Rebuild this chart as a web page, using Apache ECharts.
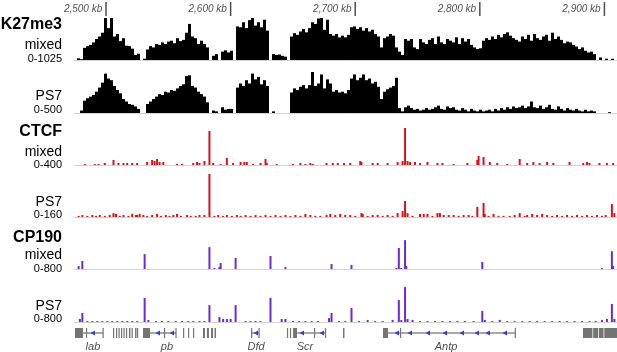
<!DOCTYPE html>
<html>
<head>
<meta charset="utf-8">
<script src="https://cdn.jsdelivr.net/npm/echarts@6/dist/echarts.min.js"></script>
<style>
  html, body { margin: 0; padding: 0; background: #fff; }
  #chart { width: 617px; height: 352px; }
</style>
</head>
<body>
<div id="chart"></div>
<script>
// genomic window shown (kb)
const KB_MIN = 2474.3;
const KB_MAX = 2910.1;

const rulerTicks = [2500, 2600, 2700, 2800, 2900];
const rulerLabels = ["2,500 kb", "2,600 kb", "2,700 kb", "2,800 kb", "2,900 kb"];

const trackNames = ["K27me3", "CTCF", "CP190"];
const sampleNames = ["mixed", "PS7"];
const scaleLabels = ["0-1025", "0-500", "0-400", "0-160", "0-800", "0-800"];
const scaleMax = [1025, 500, 400, 160, 800, 800];

// H3K27me3 signal, equal bins across the window
const k27Mixed = [
  0, 40, 20, 290, 330, 360, 420, 500, 560, 650,
  1000, 760, 1000, 560, 620, 450, 520, 340, 330, 270,
  120, 150, 0, 30, 250, 330, 300, 380, 360, 420,
  380, 440, 460, 400, 520, 450, 480, 650, 860, 560,
  520, 380, 460, 380, 300, 0, 100, 140, 0, 200,
  230, 180, 220, 0, 800, 780, 900, 760, 950, 1000,
  820, 900, 780, 960, 700, 0, 140, 120, 130, 100,
  80, 0, 560, 640, 600, 680, 740, 660, 760, 900,
  860, 990, 1000, 720, 960, 620, 580, 620, 540, 580,
  540, 600, 780, 800, 740, 780, 700, 760, 680, 720,
  620, 560, 300, 520, 560, 620, 580, 300, 200, 120,
  500, 460, 500, 300, 260, 500, 420, 380, 480, 520,
  380, 560, 420, 380, 500, 460, 420, 540, 380, 520,
  440, 500, 360, 300, 260, 280, 460, 520, 480, 560,
  500, 600, 540, 620, 660, 580, 520, 480, 440, 560,
  500, 600, 460, 620, 520, 480, 560, 600, 460, 650,
  500, 560, 480, 400, 440, 420, 360, 320, 260, 300,
  220, 180, 200, 140, 0, 60, 0, 30, 0, 30,
  0
];
const k27PS7 = [
  0, 0, 30, 150, 180, 200, 220, 260, 310, 370,
  480, 420, 400, 330, 280, 240, 170, 140, 110, 100,
  80, 50, 0, 0, 110, 140, 170, 200, 230, 220,
  260, 250, 280, 270, 300, 330, 350, 450, 460, 330,
  310, 260, 230, 200, 130, 0, 30, 20, 0, 70,
  40, 50, 50, 0, 310, 360, 330, 400, 360, 480,
  410, 440, 350, 400, 330, 0, 20, 0, 0, 0,
  0, 0, 250, 300, 280, 320, 340, 300, 340, 500,
  330, 360, 470, 300, 410, 360, 260, 280, 250, 260,
  240, 280, 420, 470, 400, 430, 470, 400, 420, 360,
  380, 320, 170, 260, 290, 310, 330, 430, 60, 20,
  70, 90, 60, 40, 50, 30, 40, 60, 40, 50,
  70, 90, 50, 40, 80, 60, 70, 40, 30, 60,
  40, 20, 50, 30, 20, 40, 20, 30, 40, 20,
  50, 30, 60, 40, 70, 50, 80, 60, 70, 90,
  60, 80, 140, 70, 60, 90, 50, 70, 100, 50,
  40, 80, 50, 30, 60, 40, 30, 50, 30, 20,
  40, 20, 30, 20, 0, 0, 0, 0, 10, 0,
  0
];

// CTCF peaks [kb, signal]
const ctcfMixed = [
  [2483,10],[2491,10],[2494,10],[2499,20],[2506,50],[2510,20],[2514,20],[2517,20],[2521,20],[2525,20],
  [2533,30],[2537,50],[2539,40],[2541,60],[2543,30],[2546,30],[2557,10],[2561,10],[2570,20],[2573,30],
  [2575,20],[2579,40],[2583,340],[2586,20],[2592,10],[2597,70],[2602,20],[2608,30],[2611,30],[2613,30],
  [2618,10],[2624,20],[2628,60],[2629,20],[2637,10],[2650,10],[2656,20],[2660,10],[2664,20],[2666,10],
  [2677,20],[2682,20],[2686,20],[2691,20],[2696,20],[2704,40],[2705,30],[2714,20],[2718,20],[2726,20],
  [2734,30],[2738,40],[2740,370],[2742,40],[2744,30],[2748,30],[2752,20],[2758,30],[2766,20],[2770,20],
  [2779,10],[2790,20],[2798,50],[2799,90],[2803,80],[2808,30],[2814,20],[2822,10],[2832,60],[2838,20],
  [2843,30],[2848,20],[2854,30],[2859,20],[2872,30],[2883,20],[2886,30],[2888,20],[2896,20],[2902,20],
  [2907,20]
];
const ctcfPS7 = [
  [2478,4],[2481,7],[2485,4],[2489,7],[2492,4],[2495,7],[2499,4],[2503,7],[2506,14],[2508,11],
  [2511,4],[2514,7],[2518,4],[2521,11],[2524,7],[2525,7],[2527,11],[2530,7],[2533,4],[2537,7],
  [2541,11],[2544,4],[2548,7],[2551,4],[2554,7],[2557,11],[2560,4],[2565,7],[2568,4],[2572,4],
  [2575,7],[2579,7],[2583,153],[2587,4],[2590,7],[2594,4],[2597,7],[2601,4],[2605,7],[2608,4],
  [2612,7],[2616,4],[2620,7],[2624,4],[2628,7],[2632,4],[2636,7],[2640,4],[2644,7],[2648,4],
  [2652,7],[2656,4],[2660,11],[2664,7],[2668,4],[2672,4],[2677,7],[2680,11],[2684,7],[2688,11],
  [2692,7],[2696,7],[2700,4],[2705,14],[2706,11],[2710,4],[2714,7],[2718,7],[2722,4],[2726,7],
  [2730,4],[2734,14],[2738,21],[2740,57],[2742,14],[2746,4],[2752,11],[2755,11],[2758,11],[2762,4],
  [2766,14],[2768,14],[2771,7],[2775,7],[2779,7],[2783,4],[2787,7],[2791,7],[2794,4],[2798,36],
  [2803,50],[2804,11],[2807,4],[2811,11],[2815,4],[2819,4],[2824,4],[2828,7],[2832,14],[2836,4],
  [2838,7],[2842,11],[2846,7],[2850,11],[2854,7],[2858,4],[2862,7],[2866,4],[2870,7],[2874,4],
  [2878,7],[2882,4],[2886,7],[2890,4],[2894,7],[2898,4],[2901,7],[2906,46],[2908,14]
];

// CP190 peaks [kb, signal]
const cp190Mixed = [
  [2478,70],[2481,195],[2531,360],[2583,530],[2587,25],[2591,50],[2592,145],[2604,270],[2632,315],
  [2644,50],[2681,120],[2697,100],[2733,25],[2735,510],[2737,25],[2740,700],[2741,70],[2802,170],
  [2898,25],[2906,430],[2907,70]
];
const cp190PS7 = [
  [2479,65],[2481,195],[2485,20],[2489,20],[2493,20],[2497,20],[2501,20],[2505,20],[2509,20],[2513,20],
  [2517,20],[2521,20],[2525,20],[2531,520],[2534,45],[2540,20],[2545,20],[2550,20],[2556,20],[2561,20],
  [2566,20],[2570,20],[2575,20],[2579,20],[2583,365],[2591,110],[2594,65],[2597,65],[2600,65],[2604,365],
  [2612,20],[2616,20],[2620,20],[2624,20],[2632,520],[2641,65],[2644,65],[2650,20],[2655,20],[2660,20],
  [2665,20],[2670,20],[2679,85],[2681,195],[2687,20],[2692,20],[2697,300],[2703,20],[2710,45],[2716,20],
  [2722,20],[2730,45],[2735,475],[2737,45],[2740,760],[2742,65],[2746,45],[2752,20],[2758,20],[2764,20],
  [2770,20],[2776,20],[2782,20],[2788,20],[2795,20],[2802,240],[2804,45],[2810,20],[2816,45],[2822,20],
  [2828,20],[2834,20],[2840,20],[2846,20],[2852,20],[2858,20],[2864,20],[2870,20],[2876,20],[2882,20],
  [2888,20],[2893,20],[2898,45],[2902,65],[2906,390],[2908,65]
];

// gene models (kb)
const geneLines = [
  [2481.5, 2497.6], [2535.3, 2556.2], [2616.4, 2622.8], [2653.3, 2675.7], [2722.3, 2828.2]
];
const geneExons = [
  [2475.1, 2481.5], [2483.9, 2484.7], [2497.2, 2498.0],
  [2505.6, 2506.4], [2508.0, 2508.8], [2510.0, 2510.8], [2512.0, 2512.8], [2514.0, 2514.8], [2516.0, 2516.8],
  [2518.4, 2519.6], [2520.5, 2521.3], [2523.3, 2524.5], [2524.9, 2525.7],
  [2529.7, 2535.3], [2546.5, 2547.3], [2555.7, 2556.5],
  [2561.8, 2562.6], [2565.8, 2566.6], [2569.8, 2570.6],
  [2577.8, 2579.4], [2581.0, 2582.6], [2584.3, 2585.9], [2587.1, 2588.3],
  [2616.4, 2617.2], [2622.4, 2623.2],
  [2645.2, 2646.0], [2647.6, 2648.4], [2650.1, 2653.3], [2666.9, 2667.7], [2675.7, 2676.5],
  [2690.2, 2691.4],
  [2722.3, 2726.3], [2735.9, 2736.7], [2828.0, 2828.8],
  [2882.8, 2890.4], [2891.0, 2895.0], [2895.6, 2899.3], [2899.9, 2910.1]
];
const geneArrows = [
  2489.5, 2541.7, 2553.0, 2620.4, 2657.3, 2673.3,
  2733.5, 2744.0, 2758.4, 2772.1, 2785.7, 2797.7, 2806.5, 2820.2
];
const geneNames = ["lab", "pb", "Dfd", "Scr", "Antp"];
const geneLabelKb = [2489.5, 2548.9, 2620.4, 2659.7, 2772.9];

const FONT = '"Liberation Sans", Arial, sans-serif';
const RED = "#d3141c";
const PURPLE = "#6a2bd0";
const BASE = "#d4d4d4";

const grids = [];
const xAxes = [];
const yAxes = [];
const series = [];

function addGrid(top, height) {
  grids.push({ left: 74, right: 0, top, height });
  return grids.length - 1;
}

// K27me3 tracks on binned category axes
[[k27Mixed, 0, 17, 43], [k27PS7, 1, 72, 41]].forEach(([vals, s, top, h]) => {
  const gi = addGrid(top, h);
  xAxes.push({
    gridIndex: gi, type: "category", data: vals.map((_, i) => i),
    axisLine: { lineStyle: { color: BASE, width: 1 } },
    axisTick: { show: false }, axisLabel: { show: false }
  });
  yAxes.push({ gridIndex: gi, type: "value", min: 0, max: scaleMax[s], show: false });
  series.push({
    type: "bar", xAxisIndex: gi, yAxisIndex: gi, data: vals,
    barCategoryGap: "0%", itemStyle: { color: "#000" }, silent: true
  });
});

// peak tracks on a kb axis
[
  [ctcfMixed, 2, 125, 40, RED],
  [ctcfPS7, 3, 172, 45, RED],
  [cp190Mixed, 4, 236, 33, PURPLE],
  [cp190PS7, 5, 285, 37, PURPLE]
].forEach(([vals, s, top, h, color]) => {
  const gi = addGrid(top, h);
  xAxes.push({
    gridIndex: gi, type: "value", min: KB_MIN, max: KB_MAX,
    axisLine: { lineStyle: { color: BASE, width: 1 } },
    axisTick: { show: false }, axisLabel: { show: false }, splitLine: { show: false }
  });
  yAxes.push({ gridIndex: gi, type: "value", min: 0, max: scaleMax[s], show: false });
  series.push({
    type: "bar", xAxisIndex: gi, yAxisIndex: gi, data: vals,
    barWidth: 2, itemStyle: { color }, silent: true
  });
});

// ruler
const rg = addGrid(0, 18);
xAxes.push({ gridIndex: rg, type: "value", min: KB_MIN, max: KB_MAX, show: false });
yAxes.push({ gridIndex: rg, type: "value", min: 0, max: 1, show: false });
series.push({
  type: "scatter", xAxisIndex: rg, yAxisIndex: rg,
  data: rulerTicks.map(k => [k, 0.5]),
  symbol: "rect", symbolSize: [1.5, 14], itemStyle: { color: "#222" }, silent: true,
  label: {
    show: true, position: "left", distance: 3,
    formatter: p => rulerLabels[p.dataIndex],
    fontFamily: FONT, fontSize: 10, fontStyle: "italic", color: "#222"
  }
});

// gene track
const GENE_Y = 11;
const gg = addGrid(322, 30);
xAxes.push({ gridIndex: gg, type: "value", min: KB_MIN, max: KB_MAX, show: false });
yAxes.push({ gridIndex: gg, type: "value", min: 0, max: 30, inverse: true, show: false });
series.push({
  type: "custom", xAxisIndex: gg, yAxisIndex: gg, silent: true,
  data: geneLines,
  renderItem: (params, api) => {
    const a = api.coord([api.value(0), GENE_Y]);
    const b = api.coord([api.value(1), GENE_Y]);
    return { type: "line", shape: { x1: a[0], y1: a[1], x2: b[0], y2: b[1] },
      style: { stroke: "#8c8c8c", lineWidth: 1.5 } };
  }
});
series.push({
  type: "custom", xAxisIndex: gg, yAxisIndex: gg, silent: true,
  data: geneExons,
  renderItem: (params, api) => {
    const a = api.coord([api.value(0), GENE_Y]);
    const b = api.coord([api.value(1), GENE_Y]);
    return { type: "rect", shape: { x: a[0], y: a[1] - 5, width: Math.max(1.2, b[0] - a[0]), height: 10 },
      style: { fill: "#747474" } };
  }
});
series.push({
  type: "custom", xAxisIndex: gg, yAxisIndex: gg, silent: true,
  data: geneArrows.map(k => [k]),
  renderItem: (params, api) => {
    const p = api.coord([api.value(0), GENE_Y]);
    return { type: "polygon",
      shape: { points: [[p[0] - 2.5, p[1]], [p[0] + 2, p[1] - 2.5], [p[0] + 2, p[1] + 2.5]] },
      style: { fill: "#3a3ad4" } };
  }
});
series.push({
  type: "scatter", xAxisIndex: gg, yAxisIndex: gg, silent: true,
  data: geneLabelKb.map(k => [k, 25]),
  symbolSize: 1, itemStyle: { color: "rgba(0,0,0,0)" },
  label: {
    show: true, position: "inside",
    formatter: p => geneNames[p.dataIndex],
    fontFamily: FONT, fontSize: 11, fontStyle: "italic", color: "#222"
  }
});

// track labels on the left
function txt(text, y, weight, size) {
  return {
    type: "text", x: 62, y, silent: true,
    style: {
      text, fill: "#000", align: "right", verticalAlign: "middle",
      font: weight + " " + size + "px " + FONT
    }
  };
}
const graphic = [
  txt(trackNames[0], 25, "bold", 16),
  txt(sampleNames[0], 45, "normal", 14),
  txt(scaleLabels[0], 58.5, "normal", 11),
  txt(sampleNames[1], 96, "normal", 14),
  txt(scaleLabels[1], 109.5, "normal", 11),
  txt(trackNames[1], 132, "bold", 16),
  txt(sampleNames[0], 152, "normal", 14),
  txt(scaleLabels[2], 164.5, "normal", 11),
  txt(sampleNames[1], 202.5, "normal", 14),
  txt(scaleLabels[3], 215, "normal", 11),
  txt(trackNames[2], 237.5, "bold", 16),
  txt(sampleNames[0], 255, "normal", 14),
  txt(scaleLabels[4], 268.5, "normal", 11),
  txt(sampleNames[1], 306, "normal", 14),
  txt(scaleLabels[5], 319, "normal", 11)
];

const chart = echarts.init(document.getElementById("chart"), null, { renderer: "canvas" });
chart.setOption({
  animation: false,
  backgroundColor: "#fff",
  grid: grids,
  xAxis: xAxes,
  yAxis: yAxes,
  series,
  graphic
});
</script>
</body>
</html>
